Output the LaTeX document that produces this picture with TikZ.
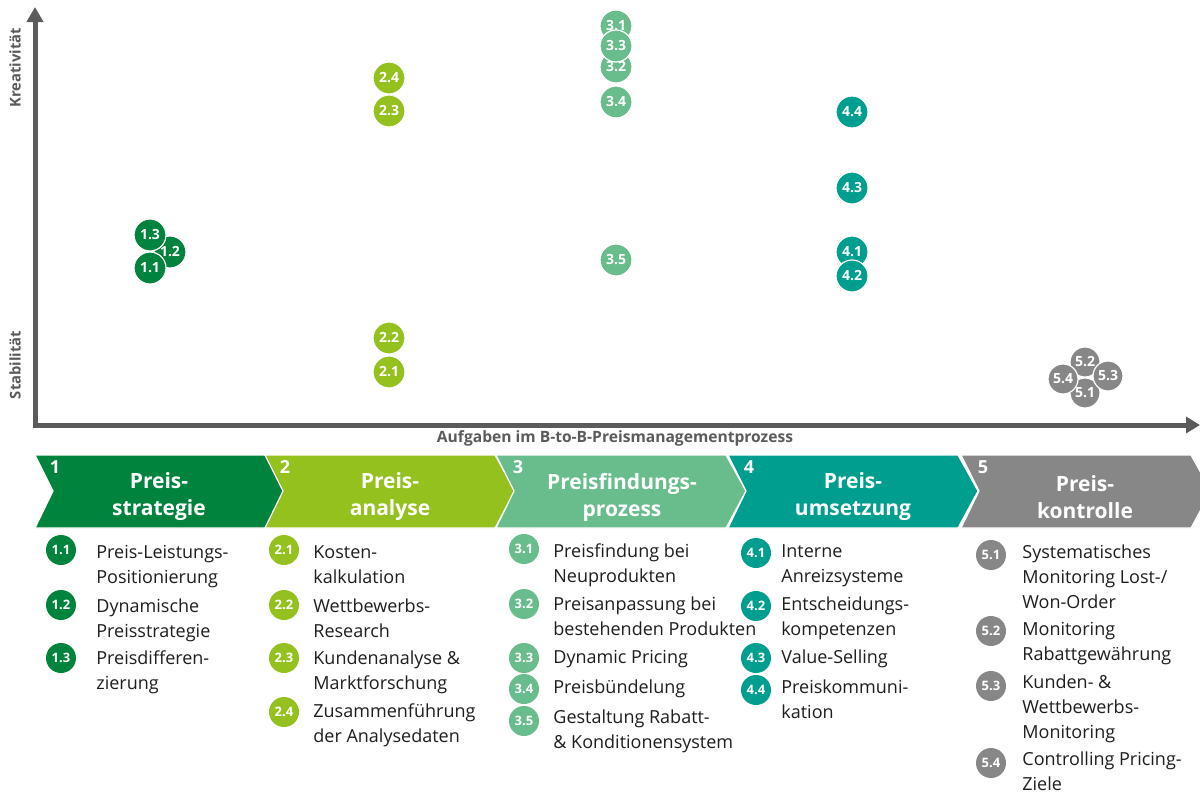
\documentclass[tikz,border=0pt]{standalone}
\usepackage{fontspec}
\setmainfont{Open Sans}
\usetikzlibrary{arrows.meta}
\definecolor{cA}{HTML}{00843D}
\definecolor{cB}{HTML}{95C11F}
\definecolor{cC}{HTML}{69BC8C}
\definecolor{cD}{HTML}{009E8F}
\definecolor{cE}{HTML}{878787}
\definecolor{axisgray}{HTML}{5B5B5B}
\definecolor{txt}{HTML}{1E1E1E}
\tikzset{
  dot/.style={circle, fill=#1, draw=white, line width=0.6pt, minimum size=16pt, inner sep=0pt, text=white, font=\bfseries\fontsize{7}{8}\selectfont},
  bul/.style={circle, fill=#1, minimum size=15pt, inner sep=0pt, text=white, font=\bfseries\fontsize{6.5}{7}\selectfont},
  itm/.style={anchor=north west, inner sep=0pt, align=left, text=txt, font=\fontsize{9}{12.4}\selectfont},
  chev/.style={fill=#1, draw=white, line width=0.6pt},
  chevtitle/.style={align=center, text=white, inner sep=0pt, font=\bfseries\fontsize{10.5}{13.5}\selectfont},
  chevnum/.style={text=white, inner sep=0pt, font=\bfseries\fontsize{9}{10}\selectfont},
  axislabel/.style={text=axisgray, inner sep=0pt, font=\bfseries\fontsize{7.4}{9}\selectfont},
}
\begin{document}
\begin{tikzpicture}[x=0.5pt,y=-0.5pt]
\useasboundingbox[fill=white] (0,0) rectangle (1200,793);
% axes
\coordinate (Ytop) at (35,7);
\coordinate (O) at (35,425);
\coordinate (Xend) at (1200,425);
\draw[axisgray, line width=2.5pt, {Triangle[length=7.5pt,width=8pt]}-{Triangle[length=7pt,width=8pt]}] (Ytop) -- (O) -- (Xend);
\node[axislabel, rotate=90] (kre) at (15,68) {Kreativität};
\node[axislabel, rotate=90] (sta) at (15,365) {Stabilität};
\node[axislabel, font=\bfseries\fontsize{7.8}{9}\selectfont] (auf) at (615,438) {Aufgaben im B-to-B-Preismanagementprozess};
% group 1
\node[dot=cA] (p12) at (170,252) {1.2};
\node[dot=cA] (p13) at (150,235) {1.3};
\node[dot=cA] (p11) at (150,268) {1.1};
% group 2
\node[dot=cB] (p24) at (389,78) {2.4};
\node[dot=cB] (p23) at (389,111) {2.3};
\node[dot=cB] (p22) at (389,338) {2.2};
\node[dot=cB] (p21) at (389,372) {2.1};
% group 3
\node[dot=cC] (p31) at (616,26) {3.1};
\node[dot=cC] (p32) at (616,67) {3.2};
\node[dot=cC] (p33) at (616,46) {3.3};
\node[dot=cC] (p34) at (616,102) {3.4};
\node[dot=cC] (p35) at (616,260) {3.5};
% group 4
\node[dot=cD] (p44) at (852,112) {4.4};
\node[dot=cD] (p43) at (852,188) {4.3};
\node[dot=cD] (p41) at (852,252) {4.1};
\node[dot=cD] (p42) at (852,276) {4.2};
% group 5
\node[dot=cE, minimum size=15pt] (p52) at (1085,362) {5.2};
\node[dot=cE, minimum size=15pt] (p51) at (1085,393) {5.1};
\node[dot=cE, minimum size=15pt] (p54) at (1063,379) {5.4};
\node[dot=cE, minimum size=15pt] (p53) at (1108,376) {5.3};
% chevrons
\foreach \s/\c in {35/cA,265/cB,496/cC,728/cD,961/cE}
  \path[chev=\c] (\s,455) -- ++(230,0) -- ++(20,36) -- ++(-20,37) -- ++(-230,0) -- ++(18,-37) -- cycle;
\node[chevnum] (n1) at (55,467) {1};
\node[chevnum] (n2) at (285,467) {2};
\node[chevnum] (n3) at (518,467) {3};
\node[chevnum] (n4) at (749,467) {4};
\node[chevnum] (n5) at (983,467) {5};
\node[chevtitle] (t1) at (159,497) {Preis-\\strategie};
\node[chevtitle] (t2) at (390,497) {Preis-\\analyse};
\node[chevtitle] (t3) at (622,497) {Preisfindungs-\\prozess};
\node[chevtitle] (t4) at (853,497) {Preis-\\umsetzung};
\node[chevtitle] (t5) at (1085,497) {Preis-\\kontrolle};
% list 1
\node[bul=cA] (b11) at (61,550) {1.1};
\node[bul=cA] (b12) at (61,605) {1.2};
\node[bul=cA] (b13) at (61,658) {1.3};
\node[itm] (l11) at (96,541) {\strut Preis-Leistungs-\\Positionierung};
\node[itm] (l12) at (96,595) {\strut Dynamische\\Preisstrategie};
\node[itm] (l13) at (96,647) {\strut Preisdifferen-\\zierung};
% list 2
\node[bul=cB] (b21) at (284,550) {2.1};
\node[bul=cB] (b22) at (284,605) {2.2};
\node[bul=cB] (b23) at (284,658) {2.3};
\node[bul=cB] (b24) at (284,712) {2.4};
\node[itm] (l21) at (313,541) {\strut Kosten-\\kalkulation};
\node[itm] (l22) at (313,595) {\strut Wettbewerbs-\\Research};
\node[itm] (l23) at (313,647) {\strut Kundenanalyse \&\\Marktforschung};
\node[itm] (l24) at (313,700) {\strut Zusammenführung\\der Analysedaten};
% list 3
\node[bul=cC] (b31) at (524,549) {3.1};
\node[bul=cC] (b32) at (524,604) {3.2};
\node[bul=cC] (b33) at (524,658) {3.3};
\node[bul=cC] (b34) at (524,689) {3.4};
\node[bul=cC] (b35) at (524,721) {3.5};
\node[itm] (l31) at (553,540) {\strut Preisfindung bei\\Neuprodukten};
\node[itm] (l32) at (553,593) {\strut Preisanpassung bei\\bestehenden Produkten};
\node[itm] (l33) at (553,646) {\strut Dynamic Pricing};
\node[itm] (l34) at (553,676) {\strut Preisbündelung};
\node[itm] (l35) at (553,706) {\strut Gestaltung Rabatt-\\\& Konditionensystem};
% list 4
\node[bul=cD] (b41) at (756,553) {4.1};
\node[bul=cD] (b42) at (756,606) {4.2};
\node[bul=cD] (b43) at (756,658) {4.3};
\node[bul=cD] (b44) at (756,690) {4.4};
\node[itm] (l41) at (781,540) {\strut Interne\\Anreizsysteme};
\node[itm] (l42) at (781,593) {\strut Entscheidungs-\\kompetenzen};
\node[itm] (l43) at (781,646) {\strut Value-Selling};
\node[itm] (l44) at (781,676) {\strut Preiskommuni-\\kation};
% list 5
\node[bul=cE] (b51) at (991,555) {5.1};
\node[bul=cE] (b52) at (991,631) {5.2};
\node[bul=cE] (b53) at (991,686) {5.3};
\node[bul=cE] (b54) at (991,763) {5.4};
\node[itm] (l51) at (1022,541) {\strut Systematisches\\Monitoring Lost-/\\Won-Order};
\node[itm] (l52) at (1022,618) {\strut Monitoring\\Rabattgewährung};
\node[itm] (l53) at (1022,671) {\strut Kunden- \&\\Wettbewerbs-\\Monitoring};
\node[itm] (l54) at (1022,748) {\strut Controlling Pricing-\\Ziele};
\end{tikzpicture}
\end{document}
